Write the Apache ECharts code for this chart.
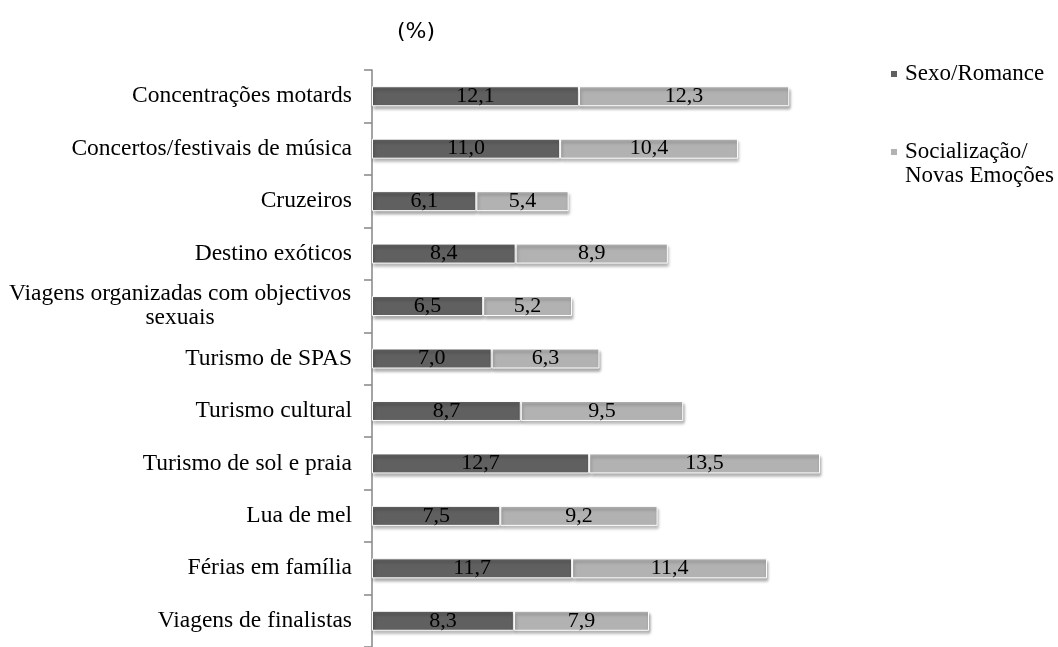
<!DOCTYPE html>
<html>
<head>
<meta charset="utf-8">
<script src="https://cdn.jsdelivr.net/npm/echarts@6/dist/echarts.min.js"></script>
<style>
  html, body { margin: 0; padding: 0; background: #fff; }
  #chart { width: 1058px; height: 647px; }
</style>
</head>
<body>
<div id="chart"></div>
<script>
var categories = ['Concentrações motards', 'Concertos/festivais de música', 'Cruzeiros', 'Destino exóticos',
    'Viagens organizadas com objectivos\nsexuais', 'Turismo de SPAS', 'Turismo cultural',
    'Turismo de sol e praia', 'Lua de mel', 'Férias em família', 'Viagens de finalistas'];
var sexoRomance = [12.1, 11.0, 6.1, 8.4, 6.5, 7.0, 8.7, 12.7, 7.5, 11.7, 8.3];
var socializacao = [12.3, 10.4, 5.4, 8.9, 5.2, 6.3, 9.5, 13.5, 9.2, 11.4, 7.9];
var seriesNames = ['Sexo/Romance', 'Socialização/\nNovas Emoções'];

var serif = '"Liberation Serif", "DejaVu Serif", serif';

function fmt(p) {
    return p.value.toFixed(1).replace('.', ',');
}

// two-line category labels are centred on their longest line
function catLabel(v) {
    if (v.indexOf('\n') < 0) return v;
    return v.split('\n').map(function (s) { return '{c|' + s + '}'; }).join('\n');
}

var barStyle = {
    borderColor: '#fff',
    borderWidth: 1,
    shadowColor: 'rgba(0,0,0,0.35)',
    shadowBlur: 3,
    shadowOffsetY: 3,
    shadowOffsetX: 1
};

var valueLabel = {
    show: true,
    position: 'inside',
    formatter: fmt,
    fontFamily: serif,
    fontSize: 22,
    color: '#000'
};

var myChart = echarts.init(document.getElementById('chart'));
var option = {
    animation: false,
    title: {
        text: '(%)',
        left: 392,
        top: 16,
        textStyle: { fontFamily: '"DejaVu Sans", sans-serif', fontSize: 22, fontWeight: 'normal', color: '#000' }
    },
    legend: {
        orient: 'vertical',
        left: 889,
        top: 62,
        padding: 0,
        itemWidth: 8,
        itemHeight: 8,
        itemGap: 30,
        icon: 'rect',
        formatter: function (name) {
            // blank first line keeps the marker level with the first text line
            return name.indexOf('\n') < 0 ? name : '\n' + name;
        },
        textStyle: { fontFamily: serif, fontSize: 23, color: '#000', lineHeight: 24, padding: [0, 0, 0, 2] },
        data: seriesNames
    },
    grid: {
        left: 372,
        top: 70,
        width: 513,
        height: 587
    },
    xAxis: {
        type: 'value',
        min: 0,
        max: 30,
        show: false
    },
    yAxis: {
        type: 'category',
        inverse: true,
        data: categories,
        axisLine: { show: true, lineStyle: { color: '#868686', width: 1.5 } },
        axisTick: { show: true, length: 8, lineStyle: { color: '#868686', width: 1.5 } },
        axisLabel: {
            fontFamily: serif,
            fontSize: 23.5,
            color: '#000',
            margin: 20,
            lineHeight: 24,
            align: 'right',
            formatter: catLabel,
            rich: {
                c: { fontFamily: serif, fontSize: 23.5, color: '#000', lineHeight: 24, width: 344, align: 'center' }
            }
        }
    },
    series: [{
        name: seriesNames[0],
        type: 'bar',
        stack: 'total',
        barWidth: 20,
        data: sexoRomance,
        itemStyle: Object.assign({ color: '#606060' }, barStyle),
        label: valueLabel
    }, {
        name: seriesNames[1],
        type: 'bar',
        stack: 'total',
        barWidth: 20,
        data: socializacao,
        itemStyle: Object.assign({ color: '#b2b2b2' }, barStyle),
        label: valueLabel
    }]
};
myChart.setOption(option);
</script>
</body>
</html>
